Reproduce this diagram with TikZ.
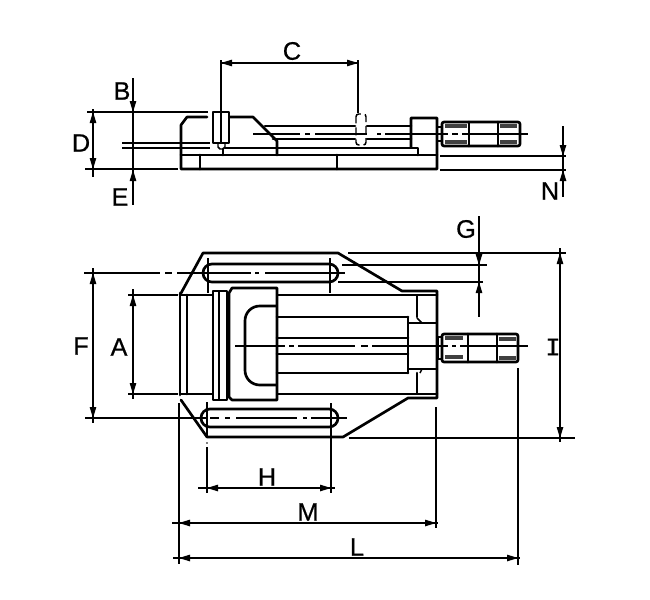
\documentclass[tikz,border=0pt]{standalone}
\usepackage{fontspec}
\setmainfont{Liberation Sans}
\newfontfamily\labelfont[FakeBold=0.6]{Liberation Sans}
\newfontfamily\serifI[FakeBold=0.6]{Liberation Mono}
\newcommand\atup[2]{\fill (#1,#2) -- (#1-3.4,#2+11) -- (#1+3.4,#2+11) -- cycle;}
\newcommand\atdn[2]{\fill (#1,#2) -- (#1-3.4,#2-11) -- (#1+3.4,#2-11) -- cycle;}
\newcommand\atlf[2]{\fill (#1,#2) -- (#1+11,#2-3.4) -- (#1+11,#2+3.4) -- cycle;}
\newcommand\atrt[2]{\fill (#1,#2) -- (#1-11,#2-3.4) -- (#1-11,#2+3.4) -- cycle;}
\tikzset{
  body/.style={line width=2pt,line cap=round,line join=round},
  thin line/.style={line width=1.1pt},
  dim/.style={line width=1pt},
  knurl/.style={line width=0.8pt,black!75},
  lab/.style={font=\labelfont\fontsize{19}{22}\selectfont,inner sep=0pt}
}
\begin{document}
\begin{tikzpicture}[x=0.75pt,y=-0.75pt]
\useasboundingbox (0,0) rectangle (650,600);
\fill[white] (0,0) rectangle (650,600);

% ---------- side view ----------
\draw[body] (207,117) -- (187,117) -- (181,125) -- (181,169) -- (437,169) -- (437,118) -- (411,118) -- (411,147);
\draw[body] (229,117) -- (253,117) -- (277,141) -- (277,155);
\draw[body] (181,155) -- (437,155);
\draw[body] (200,155) -- (200,169);
\draw[body] (337,155) -- (337,169);
\draw[body] (265,126) -- (355,126) (367,126) -- (411,126);
\draw[body] (273,139) -- (355,139) (367,139) -- (411,139);
\draw[body] (225,148) -- (418,148) -- (418,155);
\draw[body,fill=white] (213,112) rectangle (229,143);
\draw[thin line] (221,112) -- (221,143);
\draw[thin line] (218,143) -- (218,147) -- (220,149) -- (223,149) -- (225,147) -- (225,143);
\draw[body] (223,149) -- (223,155);
\draw[thin line,dash pattern=on 6pt off 3pt,rounded corners=2pt] (356,121) -- (356,114) -- (366,114) -- (366,145) -- (356,145) -- cycle;
\draw[dim] (253,134) -- (300,134) (305,134) -- (310,134) (315,134) -- (367,134) (377,134) -- (381,134) (385,134) -- (448,134) (452,134) -- (458,134) (462,134) -- (528,134);
% handle, side view
\draw[body,rounded corners=1.5pt] (442,122) rectangle (520,146);
\draw[body] (469,122) -- (469,146) (498,122) -- (498,146);
\draw[thin line] (437,127) -- (442,127) (437,141) -- (442,141);
\draw[knurl] (445,125) -- (467,125) (445,127) -- (467,127) (445,141) -- (467,141) (445,143) -- (467,143);
\draw[knurl] (500,125) -- (517,125) (500,127) -- (517,127) (500,141) -- (517,141) (500,143) -- (517,143);

% dimensions, side view
\draw[dim] (221,60) -- (221,112);
\draw[dim] (358,60) -- (358,113);
\draw[dim] (221,63) -- (358,63);
\atlf{221}{63}\atrt{358}{63}
\node[lab] (C) at (292,51) {C};
\draw[dim] (87,112) -- (208,112);
\draw[dim] (85,169) -- (178,169);
\draw[dim] (122,143) -- (210,143);
\draw[dim] (122,148) -- (210,148);
\draw[dim] (93,109) -- (93,177);
\atup{93}{112}\atdn{93}{169}
\node[lab] (D) at (81,143) {D};
\draw[dim] (133,78) -- (133,205);
\atdn{133}{112}\atup{133}{170}
\fill (133,143) circle (1.7) (133,148) circle (1.7);
\node[lab] (B) at (122,91) {B};
\node[lab] (E) at (120,197) {E};
\draw[dim] (440,156) -- (566,156);
\draw[dim] (440,170) -- (566,170);
\draw[dim] (563,126) -- (563,197);
\atdn{563}{156}\atup{563}{170}
\node[lab] (N) at (550,191) {N};

% ---------- plan view ----------
\draw[body] (180,295) -- (203,253) -- (338,253) -- (402,291) -- (437,291) -- (437,398) -- (408,398) -- (343,437) -- (207,437) -- (181,400);
\draw[body] (180,293) -- (180,395);
\draw[body] (180,295) -- (437,295);
\draw[body] (180,394) -- (437,394);
\draw[body] (187,295) -- (187,394);
\draw[body,fill=white] (213,291) rectangle (227,400);
\draw[line width=1.4pt] (219,291) -- (219,400);
\draw[body,fill=white] (229,293) -- (232,288) -- (277,288) -- (277,400) -- (232,400) -- (229,397) -- cycle;
\draw[body,rounded corners=11pt] (276,306) -- (245,306) -- (245,385) -- (276,385);
\draw[body] (277,317) -- (408,317);
\draw[body] (277,338) -- (408,338);
\draw[body] (277,354) -- (408,354);
\draw[body] (277,373) -- (408,373);
\draw[body] (408,317) -- (408,373);
\draw[body] (417,296) -- (417,317) (417,373) -- (417,393);
\draw[thin line] (408,323) -- (437,323) (408,369) -- (437,369);
\draw[thin line] (417,318) -- (422,323) (422,369) -- (420,373);
% slots
\draw[body,rounded corners=6.7pt] (270,264) -- (338,264) -- (338,282) -- (203,282) -- (203,264) -- cycle;
\draw[body,rounded corners=6.7pt] (270,409) -- (338,409) -- (338,427) -- (201,427) -- (201,409) -- cycle;
% slot axes
\draw[dim] (208,258) -- (208,293);
\draw[dim] (330,258) -- (330,293);
\draw[dim] (207,402) -- (207,437);
\draw[dim] (331,403) -- (331,493);
\fill (207,443) circle (0.9);
\draw[dim] (207,447) -- (207,493);
\draw[dim] (84,273) -- (160,273) (165,273) -- (172,273) (177,273) -- (251,273) (255,273) -- (259,273) (265,273) -- (345,273);
\draw[dim] (85,418) -- (206,418) (210,418) -- (219,418) (225,418) -- (230,418) (236,418) -- (297,418) (303,418) -- (307,418) (311,418) -- (347,418);
\draw[dim] (235,346) -- (285,346) (289,346) -- (294,346) (298,346) -- (355,346) (361,346) -- (368,346) (372,346) -- (448,346) (452,346) -- (456,346) (460,346) -- (528,346);
% handle, plan view
\draw[body,rounded corners=1.5pt] (442,334) rectangle (518,362);
\draw[body] (468,334) -- (468,362) (497,334) -- (497,362);
\draw[thin line] (438,337) -- (442,337) (438,359) -- (442,359) (438,337) -- (438,359);
\draw[knurl] (445,337) -- (463,337) (445,339) -- (463,339) (445,356) -- (463,356) (445,358) -- (463,358);
\draw[knurl] (499,338) -- (516,338) (499,340) -- (516,340) (499,357) -- (516,357) (499,359) -- (516,359);

% dimensions, plan view
\draw[dim] (93,268) -- (93,423);
\atup{93}{273}\atdn{93}{418}
\node[lab] (F) at (81,346) {F};
\draw[dim] (128,295) -- (178,295);
\draw[dim] (128,394) -- (178,394);
\draw[dim] (133,289) -- (133,399);
\atup{133}{295}\atdn{133}{394}
\node[lab] (A) at (119,347) {A};
\draw[dim] (348,253) -- (566,253);
\draw[dim] (342,265) -- (487,265);
\draw[dim] (338,282) -- (483,282);
\draw[dim] (349,438) -- (575,438);
\draw[dim] (479,216) -- (479,317);
\atdn{479}{265}\atup{479}{282}
\node[lab] (G) at (466,229) {G};
\draw[dim] (560,248) -- (560,442);
\atup{560}{253}\atdn{560}{438}
\node[lab,font=\serifI\fontsize{19}{22}\selectfont] (I) at (553,347) {I};
\draw[dim] (179,403) -- (179,564);
\draw[dim] (436,407) -- (436,528);
\draw[dim] (518,368) -- (518,565);
\draw[dim] (198,488) -- (335,488);
\atlf{207}{488}\atrt{331}{488}
\node[lab] (H) at (267,477) {H};
\draw[dim] (172,523) -- (438,523);
\atlf{179}{523}\atrt{436}{523}
\node[lab] (M) at (308,512) {M};
\draw[dim] (173,558) -- (520,558);
\atlf{179}{558}\atrt{518}{558}
\node[lab] (L) at (357,547) {L};
\end{tikzpicture}
\end{document}
